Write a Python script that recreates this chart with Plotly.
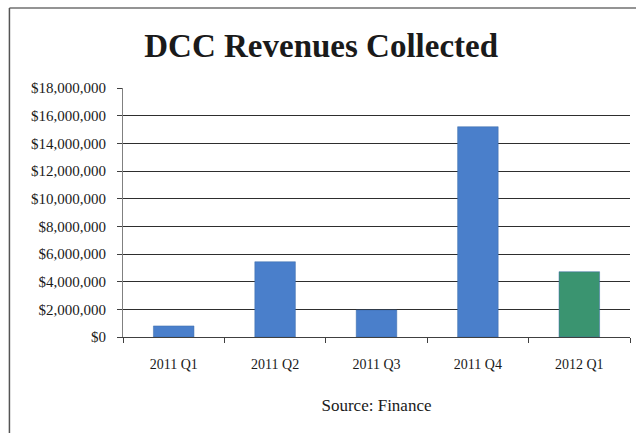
import plotly.graph_objects as go

# Quarterly DCC revenue collected (USD)
quarters = ["2011 Q1", "2011 Q2", "2011 Q3", "2011 Q4", "2012 Q1"]
revenues = [800000, 5440000, 1950000, 15200000, 4720000]
bar_colors = ["#4a7fcb", "#4a7fcb", "#4a7fcb", "#4a7fcb", "#3a9470"]
y_ticks = [0, 2000000, 4000000, 6000000, 8000000, 10000000,
           12000000, 14000000, 16000000, 18000000]

serif = "Liberation Serif, Times New Roman, serif"

fig = go.Figure(
    go.Bar(
        x=quarters,
        y=revenues,
        marker=dict(color=bar_colors, line=dict(color="#3a6aa8", width=0.5)),
        width=0.4,
    )
)

fig.update_layout(
    width=636,
    height=433,
    margin=dict(l=123, r=6, t=88, b=96),
    paper_bgcolor="white",
    plot_bgcolor="white",
    showlegend=False,
    font=dict(family=serif, color="#1a1a1a", size=13),
    title=dict(
        text="<b>DCC Revenues Collected</b>",
        x=0.505,
        xanchor="center",
        y=0.895,
        yanchor="middle",
        font=dict(family=serif, size=33, color="#1a1a1a"),
    ),
    shapes=[
        # frame edges around the chart
        dict(type="line", xref="paper", yref="paper", x0=-0.224, x1=1.02,
             y0=1.321, y1=1.321, line=dict(color="#707070", width=1.5)),
        dict(type="line", xref="paper", yref="paper", x0=-0.224, x1=-0.224,
             y0=1.321, y1=-0.39, line=dict(color="#555555", width=1.5)),
    ],
)

fig.update_xaxes(
    showline=True,
    linecolor="#404040",
    linewidth=1,
    ticks="outside",
    ticklen=5,
    tickcolor="#404040",
    tickson="boundaries",
    ticklabelstandoff=14,
    tickfont=dict(family=serif, size=14, color="#1a1a1a"),
    title=dict(text="Source: Finance", standoff=28,
               font=dict(family=serif, size=17, color="#1a1a1a")),
    showgrid=False,
)

fig.update_yaxes(
    range=[0, 18000000],
    tickvals=y_ticks,
    tickformat="$,.0f",
    showline=True,
    linecolor="#808080",
    linewidth=1,
    ticks="outside",
    ticklen=5,
    tickcolor="#404040",
    ticklabelstandoff=8,
    tickfont=dict(family=serif, size=15, color="#1a1a1a"),
    showgrid=True,
    gridcolor="#2e2e2e",
    gridwidth=1,
    zeroline=False,
)

fig.write_html("out.html")
